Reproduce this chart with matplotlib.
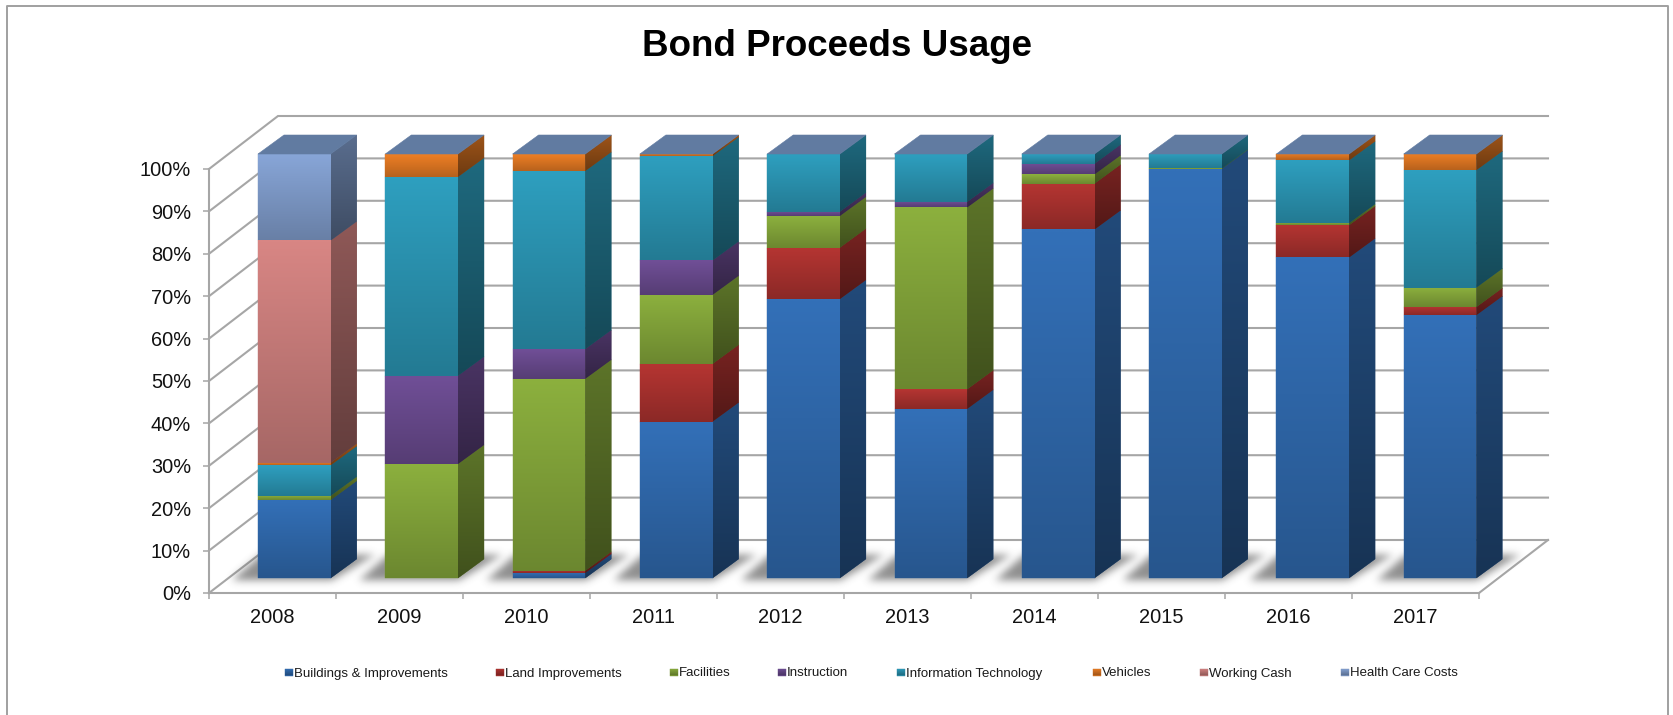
import numpy as np
import matplotlib
matplotlib.use('Agg')
import matplotlib.pyplot as plt
from matplotlib.colors import to_rgb
from matplotlib.lines import Line2D
from matplotlib.patches import Polygon

plt.rcParams['font.family'] = ['Liberation Sans', 'DejaVu Sans']

years = ['2008', '2009', '2010', '2011', '2012', '2013', '2014', '2015', '2016', '2017']
series_names = ['Buildings & Improvements', 'Land Improvements', 'Facilities', 'Instruction',
                'Information Technology', 'Vehicles', 'Working Cash', 'Health Care Costs']

# share of each year's proceeds, in percent
buildings = [18.4, 0.0, 1.2, 36.9, 65.8, 39.9, 82.2, 96.5, 75.6, 62.0]
land = [0.0, 0.0, 0.5, 13.6, 12.1, 4.6, 10.8, 0.0, 7.6, 1.9]
facilities = [1.0, 26.9, 45.3, 16.3, 7.5, 42.9, 2.2, 0.1, 0.5, 4.6]
instruction = [0.0, 20.8, 7.0, 8.1, 1.0, 1.3, 2.5, 0.0, 0.0, 0.0]
info_tech = [7.2, 46.9, 42.0, 24.6, 13.6, 11.3, 2.3, 3.4, 14.8, 27.7]
vehicles = [0.6, 5.4, 4.0, 0.5, 0.0, 0.0, 0.0, 0.0, 1.5, 3.8]
working_cash = [52.4, 0, 0, 0, 0, 0, 0, 0, 0, 0]
health_care = [20.4, 0, 0, 0, 0, 0, 0, 0, 0, 0]

all_series = [buildings, land, facilities, instruction, info_tech, vehicles, working_cash, health_care]
colors = ['#3370B8', '#B53532', '#8CB03E', '#704F97', '#2E9FBF', '#EE7F25', '#D88684', '#88A6D8']
top_color = '#617BA1'
line_color = '#A6A6A6'

# plot frame in pixels
W, H = 1673, 715
X0, X1, Y0, Y1 = 209, 1479, 593, 169
PX_X = (X1 - X0) / 10
PX_Y = (Y0 - Y1) / 100

# depth of the box: offset of the back wall in data units
DX = 69 / PX_X
DY = 53 / PX_Y


def dpx(x, y):
    # pixel position to data position
    return (x - X0) / PX_X, (Y0 - y) / PX_Y


def shade(c, f):
    return tuple(v * f for v in to_rgb(c))


def grad_face(ax, verts, c_top, c_bot, z):
    verts = np.array(verts)
    under = tuple((a + b) / 2 for a, b in zip(c_top, c_bot))
    ax.add_patch(Polygon(verts, closed=True, fc=under, ec=under, lw=0.3, zorder=z, clip_on=False))
    t = np.linspace(0, 1, 64)[:, None, None]
    img = np.array(c_top)[None, None, :] * (1 - t) + np.array(c_bot)[None, None, :] * t
    im = ax.imshow(img, extent=(verts[:, 0].min(), verts[:, 0].max(), verts[:, 1].min(), verts[:, 1].max()),
                   origin='upper', aspect='auto', interpolation='bilinear', zorder=z + 0.1)
    # imshow clips to the axes box by default, the faces run past it
    im.set_clip_box(fig.bbox)
    im.set_clip_path(Polygon(verts, closed=True, transform=ax.transData))


fig = plt.figure(figsize=(W / 100, H / 100), dpi=100)
ax = fig.add_axes([X0 / W, 1 - Y0 / H, (X1 - X0) / W, (Y0 - Y1) / H])
ax.patch.set_alpha(0)

# outer frame, open at the bottom
fig.add_artist(Line2D([6.5 / W, 6.5 / W, 1668 / W, 1668 / W], [0, 1 - 6 / H, 1 - 6 / H, 0],
                      color='#A0A0A0', lw=1.4))

fig.text(837 / W, 1 - 47 / H, 'Bond Proceeds Usage', ha='center', va='center',
         fontsize=26.5, fontweight='bold', color='black')

# walls and floor
x_back = 10 + DX
for v in range(0, 101, 10):
    ax.plot([0, DX, x_back], [v, v + DY, v + DY], color=line_color, lw=1.5, zorder=1,
            clip_on=False, solid_joinstyle='miter')
ax.plot([10, x_back], [0, DY], color=line_color, lw=1.5, zorder=1, clip_on=False)

# floor shadows, blurred
bar_step = 127.3 / PX_X
bar_x0 = (258 - X0) / PX_X
bar_w = 72.7 / PX_X
gx = np.arange(190, 1570)
gy = np.arange(535, 596)
mask = np.zeros((gy.size, gx.size))
for i in range(len(years)):
    left = 258 + i * 127.3
    for r, y in enumerate(gy):
        if 555 <= y <= 580:
            f = (580 - y) / 25
            a = left - 26 + f * 28
            b = left + 74 + f * 42
            mask[r, (gx >= a) & (gx <= b)] = 1
k = np.exp(-np.arange(-12, 13) ** 2 / (2 * 4.0 ** 2))
k = k / k.sum()
mask = np.apply_along_axis(lambda s: np.convolve(s, k, mode='same'), 0, mask)
mask = np.apply_along_axis(lambda s: np.convolve(s, k, mode='same'), 1, mask)
rgba = np.zeros(mask.shape + (4,))
rgba[..., :3] = 0.33
rgba[..., 3] = mask * 0.66
ex0, ey1 = dpx(gx[0], gy[0])
ex1, ey0 = dpx(gx[-1], gy[-1])
shadow = ax.imshow(rgba, extent=(ex0, ex1, ey0, ey1), origin='upper', aspect='auto',
                   interpolation='bilinear', zorder=2)
shadow.set_clip_on(False)

# stacked bars: front face, side face, then the cap
base = (Y0 - 578) / PX_Y
sx = 26 / PX_X
sy = 19 / PX_Y
for i in range(len(years)):
    xl = bar_x0 + i * bar_step
    xr = xl + bar_w
    bottom = 0.0
    for vals, c in zip(all_series, colors):
        v = vals[i]
        if v <= 0:
            continue
        y0 = base + bottom
        y1 = y0 + v
        grad_face(ax, [(xl, y0), (xr, y0), (xr, y1), (xl, y1)], shade(c, 1.0), shade(c, 0.77), 3)
        grad_face(ax, [(xr, y0), (xr + sx, y0 + sy), (xr + sx, y1 + sy), (xr, y1)],
                  shade(c, 0.66), shade(c, 0.46), 3)
        bottom += v
    ytop = base + bottom
    ax.add_patch(Polygon([(xl, ytop), (xr, ytop), (xr + sx, ytop + sy), (xl + sx, ytop + sy)],
                         closed=True, fc=top_color, ec=top_color, lw=0.4, zorder=4, clip_on=False))

# legend
legend_x = [285, 496, 670, 778, 897, 1093, 1200, 1341]
legend_y = 672
for name, c, lx in zip(series_names, colors, legend_x):
    x0, y0 = dpx(lx, legend_y + 3.5)
    x1, y1 = dpx(lx + 7.5, legend_y - 3.5)
    grad_face(ax, [(x0, y0), (x1, y0), (x1, y1), (x0, y1)], shade(c, 1.0), shade(c, 0.68), 5)
    tx, ty = dpx(lx + 9, legend_y + 4.5)
    ax.text(tx, ty, name, ha='left', va='baseline', fontsize=9.55, color='#1a1a1a', clip_on=False)

ax.set_xlim(0, 10)
ax.set_ylim(0, 100)

ax.set_yticks(range(0, 101, 10))
ax.set_yticklabels([f'{v}%' for v in range(0, 101, 10)], fontsize=14.4, color='#111111')
ax.set_xticks(range(0, 11))
ax.set_xticklabels([])
ax.set_xticks(np.arange(0.5, 10), minor=True)
ax.set_xticklabels(years, minor=True, fontsize=14.4, color='#111111')
ax.tick_params(axis='both', which='major', length=4.3, width=1.1, color=line_color)
ax.tick_params(axis='y', pad=8.6)
ax.tick_params(axis='x', which='minor', length=0, pad=11)
for s in ['top', 'right']:
    ax.spines[s].set_visible(False)
for s in ['left', 'bottom']:
    ax.spines[s].set_color(line_color)
    ax.spines[s].set_linewidth(1.5)

fig.savefig('out.png', dpi=100, facecolor='white')
